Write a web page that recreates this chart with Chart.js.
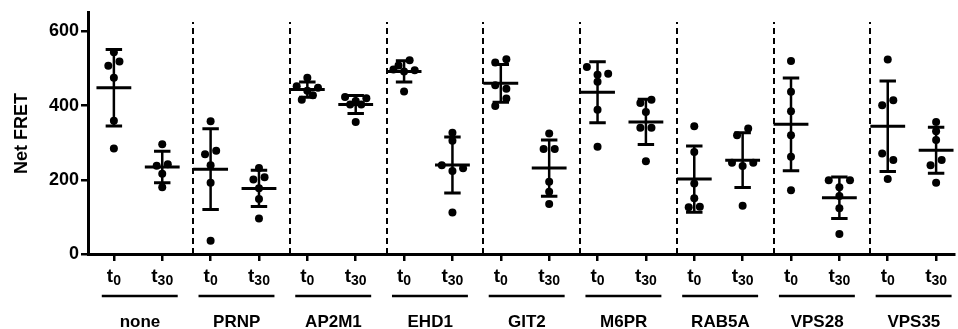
<!DOCTYPE html>
<html>
<head>
<meta charset="utf-8">
<script src="https://cdn.jsdelivr.net/npm/chart.js@4.4.0/dist/chart.umd.min.js"></script>
<style>
  html, body { margin: 0; padding: 0; background: #fff; }
</style>
</head>
<body>
<canvas id="fretChart" width="958" height="329"></canvas>
<script>
const groups = ['none', 'PRNP', 'AP2M1', 'EHD1', 'GIT2', 'M6PR', 'RAB5A', 'VPS28', 'VPS35'];
const timepoints = ['0', '30']; // drawn as subscript after "t"
const t0Values = [
  [544, 519, 507, 475, 359, 284],
  [358, 278, 269, 239, 192, 36],
  [475, 452, 448, 440, 428, 416],
  [522, 508, 497, 495, 492, 438],
  [525, 516, 455, 445, 419, 399],
  [504, 486, 483, 464, 389, 289],
  [344, 275, 190, 150, 127, 126],
  [520, 437, 385, 320, 262, 172],
  [524, 414, 401, 271, 253, 202]
];
const t30Values = [
  [296, 242, 238, 216, 180],
  [232, 207, 201, 177, 148, 96],
  [423, 420, 412, 403, 403, 356],
  [327, 305, 239, 231, 224, 112],
  [325, 283, 283, 195, 168, 135],
  [416, 407, 383, 340, 340, 250],
  [338, 320, 246, 246, 237, 130],
  [199, 199, 180, 156, 123, 54],
  [356, 331, 307, 253, 239, 192]
];
const yTicks = [0, 200, 400, 600];

const FONT = 'Liberation Sans, Arial, sans-serif';

function mean(a) {
  return a.reduce((s, v) => s + v, 0) / a.length;
}

function sd(a) {
  const m = mean(a);
  return Math.sqrt(a.reduce((s, v) => s + (v - m) * (v - m), 0) / (a.length - 1));
}

// one column per group/timepoint, t0 and t30 side by side
const columns = [];
groups.forEach((name, i) => {
  [t0Values[i], t30Values[i]].forEach((vals, t) => {
    columns.push({ x: 2 * i + t, t, vals, mean: mean(vals), sd: sd(vals) });
  });
});

// spread points that would overlap sideways, like a column scatter
function spread(vals, cx) {
  const sorted = vals.slice().sort((a, b) => b - a);
  const pts = [];
  let flip = 1;
  let i = 0;
  while (i < sorted.length) {
    const row = [sorted[i]];
    while (i + row.length < sorted.length && row.length < 3 && sorted[i] - sorted[i + row.length] < 22) {
      row.push(sorted[i + row.length]);
    }
    let offs = [0];
    if (row.length === 2) { offs = [0.115 * flip, -0.115 * flip]; flip = -flip; }
    if (row.length === 3) offs = [-0.22, 0.22, 0];
    row.forEach((v, k) => pts.push({ x: cx + offs[k], y: v }));
    i += row.length;
  }
  return pts;
}

const points = [];
columns.forEach(c => points.push(...spread(c.vals, c.x)));

const axisStyle = {
  grid: { drawOnChartArea: false, drawTicks: true, tickLength: 7, color: '#000', lineWidth: 2.5 },
  border: { display: true, color: '#000', width: 3 }
};

const overlay = {
  id: 'overlay',
  beforeDatasetsDraw(chart) {
    const { ctx, scales: { x, y } } = chart;
    ctx.save();
    ctx.strokeStyle = '#000';
    ctx.lineWidth = 2;
    ctx.setLineDash([6, 4]);
    for (let g = 0; g < groups.length - 1; g++) {
      const px = Math.round(x.getPixelForValue(2 * g + 1.64));
      ctx.beginPath();
      ctx.moveTo(px, y.getPixelForValue(0));
      ctx.lineTo(px, y.getPixelForValue(625));
      ctx.stroke();
    }
    ctx.restore();
  },
  afterDatasetsDraw(chart) {
    const { ctx, scales: { x, y } } = chart;
    ctx.save();
    ctx.strokeStyle = '#000';
    ctx.lineCap = 'butt';
    columns.forEach(c => {
      const cx = x.getPixelForValue(c.x);
      const ym = y.getPixelForValue(c.mean);
      const yt = y.getPixelForValue(c.mean + c.sd);
      const yb = y.getPixelForValue(c.mean - c.sd);
      const wMean = x.getPixelForValue(c.x + 0.36) - cx;
      const wCap = x.getPixelForValue(c.x + 0.17) - cx;
      ctx.lineWidth = 2.5;
      ctx.beginPath();
      ctx.moveTo(cx, yt); ctx.lineTo(cx, yb);
      ctx.stroke();
      ctx.lineWidth = 3;
      ctx.beginPath();
      ctx.moveTo(cx - wMean, ym); ctx.lineTo(cx + wMean, ym);
      ctx.moveTo(cx - wCap, yt); ctx.lineTo(cx + wCap, yt);
      ctx.moveTo(cx - wCap, yb); ctx.lineTo(cx + wCap, yb);
      ctx.stroke();
    });
    ctx.restore();
  },
  afterDraw(chart) {
    const { ctx, scales: { x, y } } = chart;
    const base = y.getPixelForValue(0);
    ctx.save();
    ctx.fillStyle = '#000';
    ctx.textBaseline = 'alphabetic';
    // t0 / t30 labels
    columns.forEach(c => {
      const cx = x.getPixelForValue(c.x);
      const sub = timepoints[c.t];
      ctx.font = 'bold 19px ' + FONT;
      const wt = ctx.measureText('t').width;
      ctx.font = 'bold 14px ' + FONT;
      const ws = ctx.measureText(sub).width;
      const left = cx - (wt + ws) / 2;
      ctx.textAlign = 'left';
      ctx.font = 'bold 19px ' + FONT;
      ctx.fillText('t', left, base + 27.5);
      ctx.font = 'bold 14px ' + FONT;
      ctx.fillText(sub, left + wt, base + 31);
    });
    // group underline and name
    ctx.strokeStyle = '#000';
    ctx.lineWidth = 2.5;
    ctx.textAlign = 'center';
    ctx.font = 'bold 17px ' + FONT;
    groups.forEach((name, i) => {
      const x0 = x.getPixelForValue(2 * i - 0.25);
      const x1 = x.getPixelForValue(2 * i + 1.32);
      ctx.beginPath();
      ctx.moveTo(x0, base + 42);
      ctx.lineTo(x1, base + 42);
      ctx.stroke();
      ctx.fillText(name, x.getPixelForValue(2 * i + 0.54), base + 73);
    });
    ctx.restore();
  }
};

new Chart(document.getElementById('fretChart'), {
  type: 'scatter',
  data: {
    datasets: [{
      label: 'Net FRET',
      data: points,
      backgroundColor: '#000',
      borderWidth: 0,
      pointRadius: 4,
      pointHoverRadius: 4
    }]
  },
  options: {
    responsive: false,
    animation: false,
    layout: { padding: { top: 12, left: 0, right: 0, bottom: 0 } },
    plugins: { legend: { display: false }, tooltip: { enabled: false } },
    scales: {
      x: {
        type: 'linear',
        min: -0.535,
        max: 17.37,
        afterBuildTicks: s => { s.ticks = columns.map(c => ({ value: c.x })); },
        afterFit: s => { s.height = 75; },
        ticks: { autoSkip: false, callback: () => '', padding: 0 },
        ...axisStyle
      },
      y: {
        min: 0,
        max: 650,
        afterBuildTicks: s => { s.ticks = yTicks.map(v => ({ value: v })); },
        afterFit: s => { s.width = 88; },
        ticks: { color: '#000', padding: 2, font: { family: FONT, size: 18, weight: 'bold' } },
        title: {
          display: true,
          text: 'Net FRET',
          color: '#000',
          padding: { top: 11, bottom: 0 },
          font: { family: FONT, size: 18, weight: 'bold' }
        },
        ...axisStyle
      }
    }
  },
  plugins: [overlay]
});
</script>
</body>
</html>
